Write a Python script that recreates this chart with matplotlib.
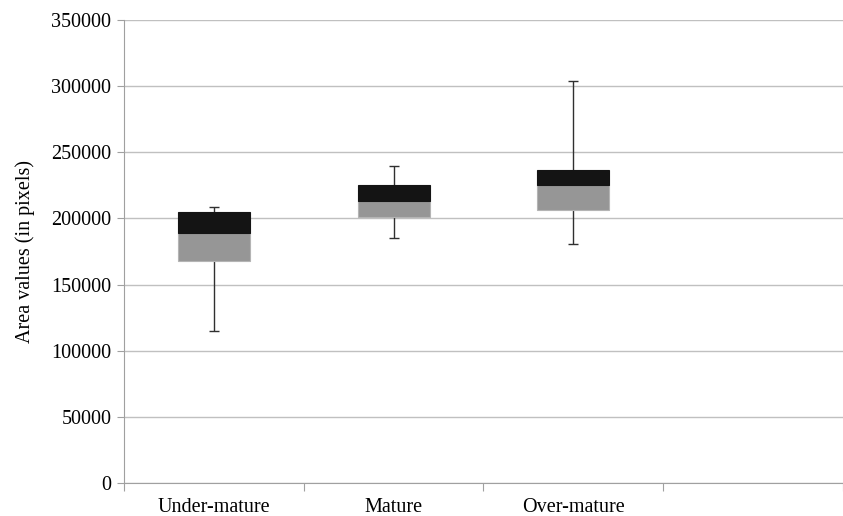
import numpy as np
import matplotlib.pyplot as plt

categories = ["Under-mature", "Mature", "Over-mature", ""]
minimum = [115000, 185500, 180500]
q1 = [168000, 201300, 206400]
median = [188700, 213200, 225300]
q3 = [205100, 225000, 236600]
maximum = [208400, 239600, 303600]

plt.rcParams['font.family'] = ['Liberation Serif', 'DejaVu Serif']

fig = plt.figure(figsize=(8.43, 5.16), dpi=100)
ax = fig.add_axes([0.147, 0.064, 0.853, 0.897])

x = np.arange(len(q1))
lo = np.array(q1)
mid = np.array(median)
hi = np.array(q3)

# whiskers first so the boxes sit on top of them
ax.errorbar(x, (np.array(minimum) + np.array(maximum)) / 2,
            yerr=(np.array(maximum) - np.array(minimum)) / 2,
            fmt='none', ecolor='#303030', elinewidth=1.0, capsize=3.5,
            capthick=1.0, zorder=2)

ax.bar(x, mid - lo, bottom=lo, width=0.4, color='#969696',
       edgecolor='#b4b4b4', linewidth=0.8, zorder=3)
ax.bar(x, hi - mid, bottom=mid, width=0.4, color='#141414',
       edgecolor='#141414', linewidth=0.8, zorder=3)

ax.set_xlim(-0.5, len(categories) - 0.5)
ax.set_ylim(0, 350000)
ax.set_yticks(np.arange(0, 350001, 50000))
ax.yaxis.grid(True, color='#c0c0c0', linewidth=1.0)
ax.set_axisbelow(True)

ax.set_xticks(np.arange(-0.5, len(categories), 1.0))
ax.set_xticklabels([])
ax.set_xticks(np.arange(len(categories)), minor=True)
ax.set_xticklabels(categories, minor=True)
ax.tick_params(axis='x', which='minor', length=0, pad=11, labelsize=14.5)
ax.tick_params(axis='x', which='major', length=6, color='#a0a0a0')
ax.tick_params(axis='y', length=5, color='#a0a0a0', labelsize=14.5, pad=4)

for s in ['top', 'right']:
    ax.spines[s].set_visible(False)
for s in ['left', 'bottom']:
    ax.spines[s].set_color('#a0a0a0')

ax.set_ylabel("Area values (in pixels)", fontsize=14.5, labelpad=12)

fig.savefig("out.png", dpi=100)
